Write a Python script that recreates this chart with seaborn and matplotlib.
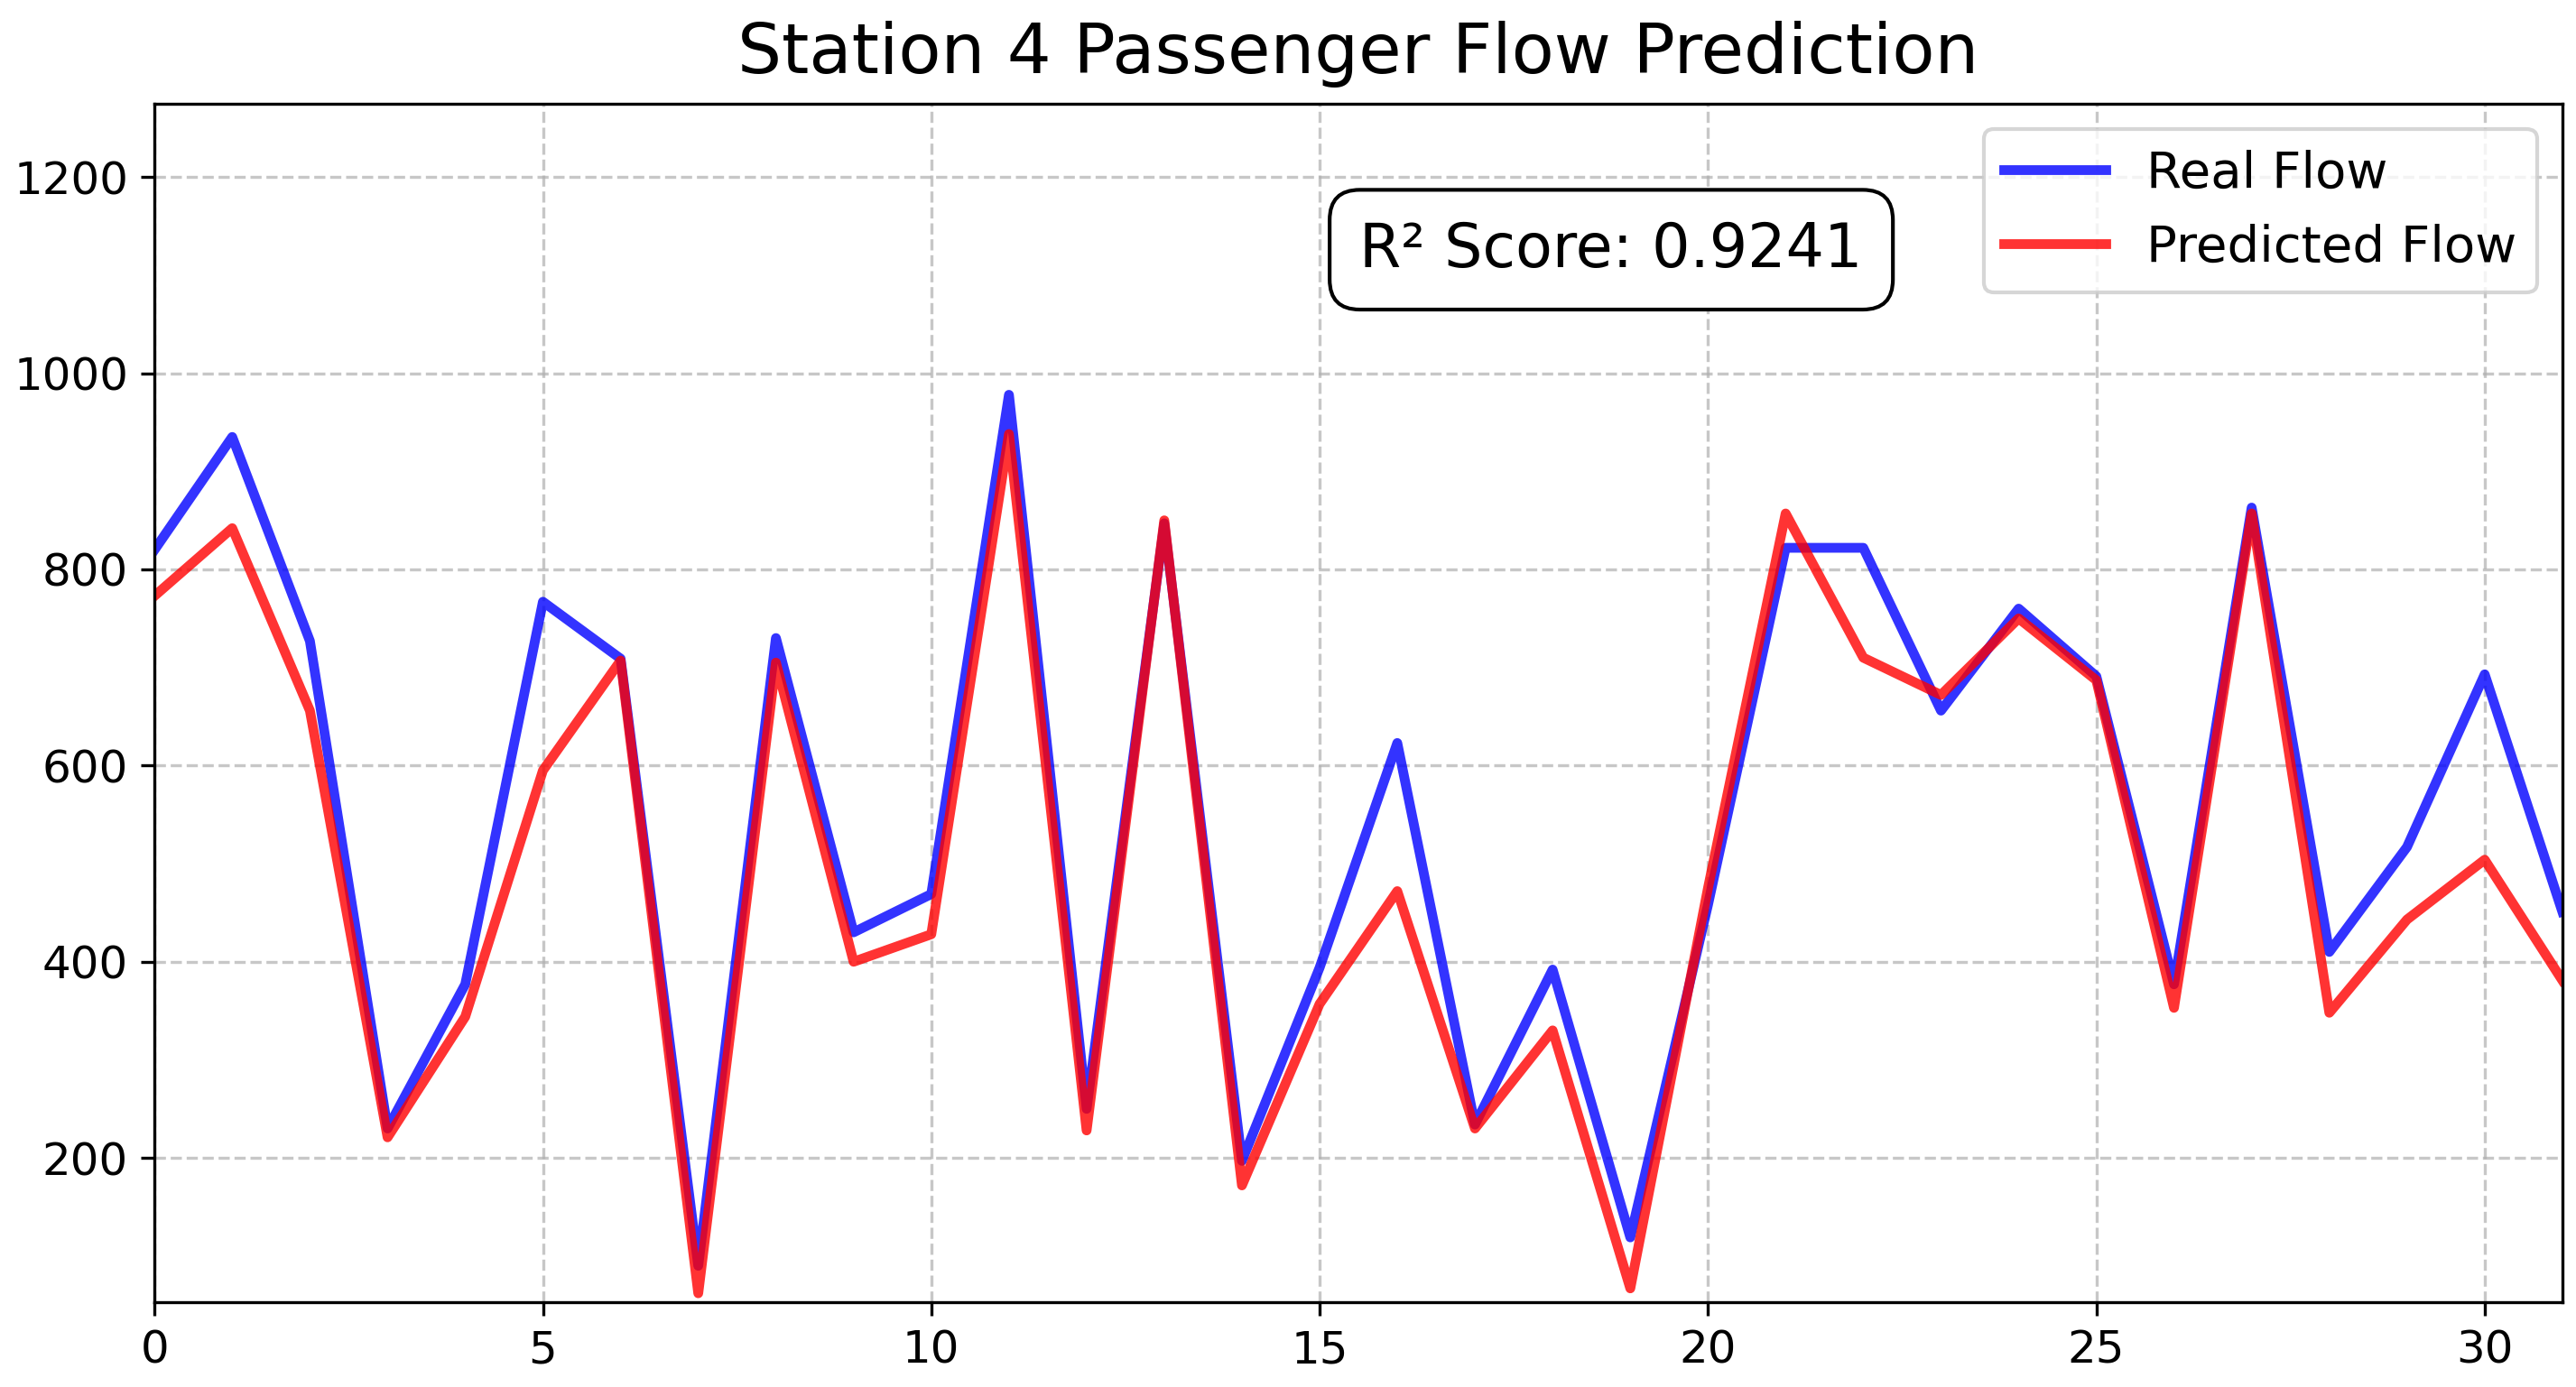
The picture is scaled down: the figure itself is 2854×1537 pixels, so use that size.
import numpy as np
import pandas as pd
import seaborn as sns
import matplotlib
matplotlib.use("Agg")
import matplotlib.pyplot as plt

# values
days = list(range(32))
real_flow = [820, 935, 727, 230, 377, 767, 709, 90, 730, 430,
             469, 978, 250, 847, 197, 394, 623, 234, 392, 119,
             458, 822, 822, 656, 760, 691, 377, 863, 410, 517,
             693, 451]
pred_flow = [773, 842, 656, 221, 344, 595, 707, 62, 705, 400,
             428, 938, 228, 850, 172, 357, 472, 230, 330, 67,
             475, 857, 710, 672, 750, 687, 353, 857, 348, 443,
             504, 381]
r2 = 0.9241
station = 4

df = pd.DataFrame({"day": days, "real": real_flow, "pred": pred_flow})

fig = plt.figure(figsize=(2854 / 300, 1537 / 300), dpi=300)
ax = fig.add_subplot(111)
fig.subplots_adjust(left=0.06, right=0.9947, top=0.9254, bottom=0.0612)

sns.lineplot(data=df, x="day", y="real", ax=ax, color="blue", alpha=0.8,
             linewidth=2.6, label="Real Flow")
sns.lineplot(data=df, x="day", y="pred", ax=ax, color="red", alpha=0.8,
             linewidth=2.6, label="Predicted Flow")

ax.set_title(f"Station {station} Passenger Flow Prediction", fontsize=18.5, pad=8)
ax.set_xlabel("")
ax.set_ylabel("")
ax.set_xlim(0, 31)
ax.set_ylim(53, 1275)
ax.set_xticks([0, 5, 10, 15, 20, 25, 30])
ax.set_yticks([200, 400, 600, 800, 1000, 1200])
ax.tick_params(labelsize=12)
ax.grid(True, linestyle="--", alpha=0.7)

ax.text(0.605, 0.878, f"R² Score: {r2:.4f}", transform=ax.transAxes,
        ha="center", va="center", fontsize=16,
        bbox=dict(boxstyle="round,pad=0.5", facecolor="white", edgecolor="black"))
ax.legend(loc="upper right", fontsize=13.5)

plt.savefig("out.png", dpi=300)
